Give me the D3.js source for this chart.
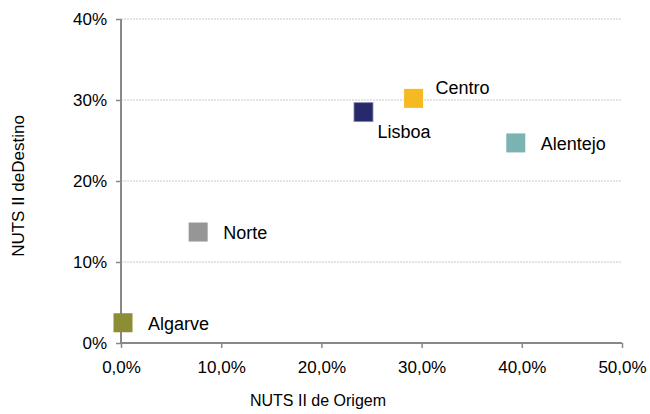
<!DOCTYPE html>
<html><head><meta charset="utf-8">
<script src="https://cdn.jsdelivr.net/npm/d3@7"></script>
<style>body{margin:0;background:#fff}svg{display:block}text{font-family:"Liberation Sans",Arial,sans-serif;fill:#000}</style>
</head><body><svg id="c" width="650" height="414"></svg>
<script>
const regions = ["Algarve","Norte","Lisboa","Centro","Alentejo"];
const origem = [0.2, 7.7, 24.2, 29.2, 39.4];
const destino = [2.5, 13.7, 28.5, 30.2, 24.7];
const colors = ["#8B8E35","#969696","#262A6B","#F5B921","#7BB3B3"];
const labelPos = ["right","right","below","above","right"];
const xTicks = [0,10,20,30,40,50];
const yTicks = [0,10,20,30,40];

const svg = d3.select("#c");
const m = {l:121, r:28, t:19, b:71};
const W = 650, H = 414;
const x = d3.scaleLinear().domain([0,50]).range([m.l, W-m.r]);
const y = d3.scaleLinear().domain([0,40]).range([H-m.b, m.t]);

// gridlines
svg.append("g").selectAll("line").data(yTicks.filter(d=>d>0)).join("line")
  .attr("x1", x(0)).attr("x2", x(50)).attr("y1", d=>y(d)).attr("y2", d=>y(d))
  .attr("stroke","#c8c8c8").attr("stroke-width",1).attr("stroke-dasharray","2,1");

// axes
const xa = svg.append("g").attr("transform",`translate(0,${y(0)})`)
  .call(d3.axisBottom(x).tickValues(xTicks).tickSize(5).tickPadding(13)
    .tickFormat(d=>d.toFixed(1).replace(".",",")+"%"));
const ya = svg.append("g").attr("transform",`translate(${x(0)},0)`)
  .call(d3.axisLeft(y).tickValues(yTicks).tickSize(5).tickPadding(9)
    .tickFormat(d=>d+"%"));
[xa,ya].forEach(a=>{
  a.select(".domain").attr("stroke","#888").attr("stroke-width",2);
  a.selectAll(".tick line").attr("stroke","#888").attr("stroke-width",1.5);
  a.selectAll(".tick text").attr("font-size",17).attr("fill","#000")
   .attr("font-family","Liberation Sans, Arial, sans-serif");
});
xa.select(".domain").attr("d",`M${x(0)},0H${x(50)}`);
ya.select(".domain").attr("d",`M0,${y(0)}V${y(40)}`);

// axis titles
svg.append("text").attr("x", 318).attr("y", 406).attr("text-anchor","middle")
  .attr("font-size",16).text("NUTS II de Origem");
svg.append("text").attr("transform",`translate(24,186) rotate(-90)`).attr("text-anchor","middle")
  .attr("font-size",17).text("NUTS II deDestino");

// points
const s = 19;
const data = regions.map((r,i)=>({r, x:origem[i], y:destino[i], c:colors[i], p:labelPos[i]}));
svg.append("g").selectAll("rect").data(data).join("rect")
  .attr("x", d=>x(d.x)-s/2).attr("y", d=>y(d.y)-s/2).attr("width", s).attr("height", s)
  .attr("fill", d=>d.c).attr("stroke", d=>d.r==="Lisboa"?"#8a8cb0":"none").attr("stroke-width",0.8);

svg.append("g").selectAll("text").data(data).join("text")
  .attr("font-size",18)
  .attr("x", d=> d.p==="right" ? x(d.x)+25 : x(d.x)+(d.p==="below"?14:22))
  .attr("y", d=> d.p==="right" ? y(d.y)+7 : (d.p==="below"? y(d.y)+26 : y(d.y)-4))
  .text(d=>d.r);
</script></body></html>
